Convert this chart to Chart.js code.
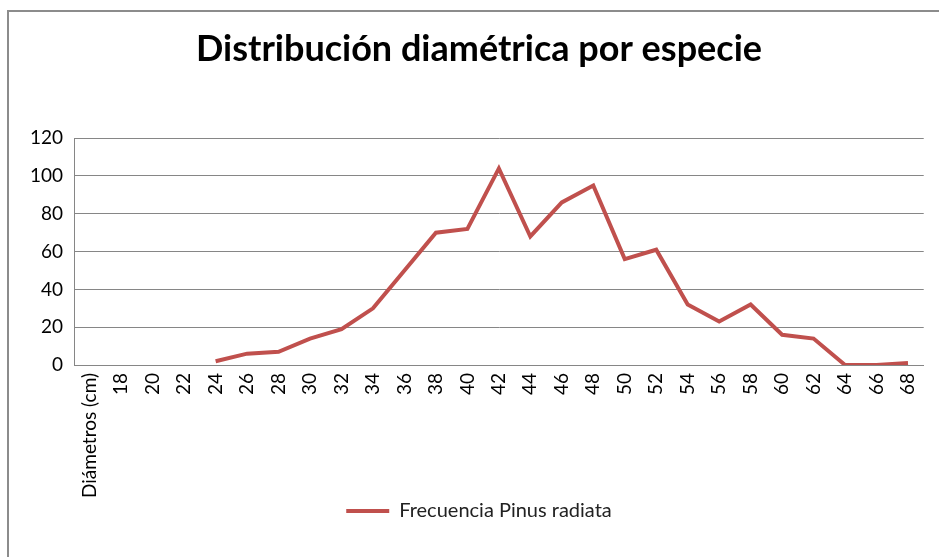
<!DOCTYPE html>
<html>
<head>
<meta charset="utf-8">
<script src="https://cdn.jsdelivr.net/npm/chart.js@4"></script>
<style>
  html, body { margin: 0; padding: 0; background: #fff; }
  #wrap { position: relative; width: 939px; height: 557px; overflow: hidden; }
  #frame { position: absolute; left: 7px; top: 10px; width: 1000px; height: 600px;
           border-left: 2px solid #8c8c8c; border-top: 2px solid #8c8c8c; }
  canvas { position: absolute; left: 0; top: 0; }
</style>
</head>
<body>
<div id="wrap">
  <div id="frame"></div>
  <canvas id="chart" width="939" height="557"></canvas>
</div>
<script>
// Chart data
const categories = ['Diámetros (cm)', '18', '20', '22', '24', '26', '28', '30', '32', '34', '36', '38', '40',
    '42', '44', '46', '48', '50', '52', '54', '56', '58', '60', '62', '64', '66', '68'];
const frecuencia = [null, null, null, null, 2, 6, 7, 14, 19, 30, 50, 70, 72,
    104, 68, 86, 95, 56, 61, 32, 23, 32, 16, 14, 0, 0, 1];
const yTicks = [0, 20, 40, 60, 80, 100, 120];

const textColor = '#000';
const gridColor = '#868686';
const lineColor = '#C0504D';
const fontFamily = 'Lato, "Open Sans", sans-serif';

const ctx = document.getElementById('chart').getContext('2d');

new Chart(ctx, {
    type: 'line',
    data: {
        labels: categories,
        datasets: [{
            label: 'Frecuencia Pinus radiata',
            data: frecuencia,
            borderColor: lineColor,
            backgroundColor: lineColor,
            borderWidth: 4,
            pointRadius: 0,
            tension: 0,
            spanGaps: false
        }]
    },
    options: {
        responsive: false,
        animation: false,
        layout: {
            padding: { left: 30, right: 11, top: 0, bottom: 26 }
        },
        scales: {
            x: {
                offset: true,
                grid: { display: false, drawTicks: false },
                border: { display: true, color: gridColor, width: 1 },
                ticks: {
                    color: textColor,
                    font: { family: fontFamily, size: 19 },
                    minRotation: 90,
                    maxRotation: 90,
                    autoSkip: false,
                    padding: 8
                },
                afterFit: scale => { scale.height = 134; }
            },
            y: {
                min: 0,
                max: 120,
                afterBuildTicks: scale => {
                    scale.ticks = yTicks.map(v => ({ value: v }));
                },
                grid: { color: gridColor, drawTicks: false },
                border: { display: true, color: gridColor, width: 1 },
                ticks: {
                    color: textColor,
                    font: { family: fontFamily, size: 19 },
                    padding: 11
                },
                afterFit: scale => { scale.width = 44; }
            }
        },
        plugins: {
            title: {
                display: true,
                text: 'Distribución diamétrica por especie',
                color: textColor,
                font: { family: fontFamily, size: 36, weight: 'bold' },
                padding: { top: 28, bottom: 67 }
            },
            legend: {
                position: 'bottom',
                labels: {
                    color: '#222',
                    font: { family: fontFamily, size: 20, lineHeight: 1 },
                    usePointStyle: true,
                    pointStyle: 'line',
                    pointStyleWidth: 43,
                    boxHeight: 20,
                    padding: 2
                }
            },
            tooltip: { enabled: false }
        }
    }
});
</script>
</body>
</html>
